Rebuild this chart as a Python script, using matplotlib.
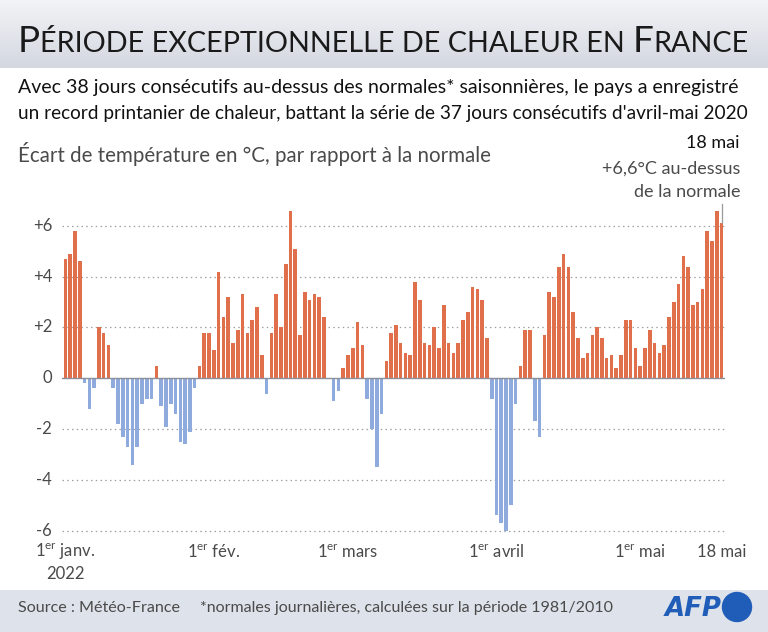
import numpy as np
import matplotlib
matplotlib.use('Agg')
import matplotlib.pyplot as plt
from matplotlib import font_manager
from matplotlib.patches import Circle

# ecart de temperature journalier (degres C) du 1er janv. au 18 mai 2022
jan = [4.7, 4.9, 5.8, 4.6, -0.2, -1.2, -0.4, 2.0, 1.8, 1.3,
       -0.4, -1.8, -2.3, -2.7, -3.4, -2.7, -1.0, -0.8, -0.8, 0.5,
       -1.1, -1.9, -1.0, -1.4, -2.5, -2.6, -2.1, -0.4, 0.5, 1.8, 1.8]
feb = [1.1, 4.2, 2.4, 3.2, 1.4, 1.9, 3.3, 1.8, 2.3, 2.8,
       0.9, -0.6, 1.8, 3.3, 2.0, 4.5, 6.6, 5.1, 1.7, 3.4,
       3.1, 3.3, 3.2, 2.4, 0.0, -0.9, -0.5, 0.4]
mar = [0.9, 1.2, 2.2, 1.3, -0.8, -2.0, -3.5, -1.4, 0.7, 1.8,
       2.1, 1.4, 1.0, 0.9, 3.8, 3.1, 1.4, 1.3, 2.0, 1.2,
       2.9, 1.4, 1.0, 1.4, 2.3, 2.6, 3.6, 3.5, 3.1, 1.6, -0.8]
apr = [-5.4, -5.7, -6.0, -5.0, -1.0, 0.5, 1.9, 1.9, -1.7, -2.3,
       1.7, 3.4, 3.2, 4.4, 4.9, 4.4, 2.6, 1.6, 0.8, 1.0,
       1.7, 2.0, 1.6, 0.8, 0.9, 0.4, 0.9, 2.3, 2.3, 1.2]
may = [0.5, 1.2, 1.9, 1.4, 1.0, 1.3, 2.4, 3.0, 3.7, 4.8,
       4.4, 2.9, 3.0, 3.5, 5.8, 5.4, 6.6, 6.1]

ecart = jan + feb + mar + apr + may
days = np.arange(len(ecart))

tick_days = [0, 31, 59, 90, 120, 137]
tick_labels = [r'1$^{\mathregular{er}}$ janv.', r'1$^{\mathregular{er}}$ fév.',
               r'1$^{\mathregular{er}}$ mars', r'1$^{\mathregular{er}}$ avril',
               r'1$^{\mathregular{er}}$ mai', '18 mai']
y_ticks = [-6, -4, -2, 0, 2, 4, 6]
y_labels = ['-6', '-4', '-2', '0', '+2', '+4', '+6']

ORANGE = '#E0704B'
BLUE = '#8FAADC'
GREY = '#4a4a4a'

W, H = 768, 632

names = {f.name for f in font_manager.fontManager.ttflist}
if 'Liberation Sans Narrow' in names:
    NARROW = ['Liberation Sans Narrow', 'DejaVu Sans']
else:
    NARROW = ['Lato', 'DejaVu Sans']
plt.rcParams['font.family'] = NARROW
plt.rcParams['mathtext.fontset'] = 'custom'
plt.rcParams['mathtext.rm'] = NARROW[0]


def fx(x):
    return x / W


def fy(y):
    return 1 - y / H


fig = plt.figure(figsize=(W / 100, H / 100), dpi=100)
renderer = fig.canvas.get_renderer()


def fit_text(x, y, s, size, width=None, **kw):
    t = fig.text(fx(x), fy(y), s, fontsize=size, **kw)
    if width:
        w = t.get_window_extent(renderer=renderer).width
        t.set_fontsize(size * width / w)
    return t


# header band
hax = fig.add_axes([0, fy(68), 1, 68 / H])
grad = np.linspace(0, 1, 100).reshape(-1, 1)
c0 = np.array([0.95, 0.955, 0.965])
c1 = np.array([0.83, 0.845, 0.88])
img = c0 + (c1 - c0) * grad[:, :, None]
hax.imshow(np.repeat(img, 2, axis=1), aspect='auto', extent=[0, 1, 0, 1])
hax.set_axis_off()

# footer band
fax = fig.add_axes([0, 0, 1, 42 / H])
fax.set_xlim(0, W)
fax.set_ylim(632, 590)
fax.add_patch(plt.Rectangle((0, 590), W, 42, color='#DEE2EA', zorder=0))
fax.add_patch(Circle((737, 607), 14.5, color='#1F5DB8', zorder=2))
fax.set_axis_off()

# title in small caps
pieces = [('P', 1.0), ('ÉRIODE EXCEPTIONNELLE DE CHALEUR EN ', 0.78),
          ('F', 1.0), ('RANCE', 0.78)]
base = 26
texts = []
x = 18
for s, k in pieces:
    t = fig.text(fx(x), fy(52), s, fontsize=base * k, color='#1a1a1a',
                 va='baseline')
    x += t.get_window_extent(renderer=renderer).width
    texts.append(t)
scale = (752 - 18) / (x - 18)
x = 18
for (s, k), t in zip(pieces, texts):
    t.set_fontsize(base * k * scale)
    t.set_x(fx(x))
    x += t.get_window_extent(renderer=renderer).width

fit_text(18, 87, "Avec 38 jours consécutifs au-dessus des normales* saisonnières, "
         "le pays a enregistré", 13.5, width=723, va='center', color='#111111')
fit_text(18, 113, "un record printanier de chaleur, battant la série de 37 jours "
         "consécutifs d'avril-mai 2020", 13.5, width=731, va='center', color='#111111')
fit_text(18, 154, "Écart de température en °C, par rapport à la normale", 14,
         width=475, va='center', color=GREY)
fig.text(fx(740), fy(143), '18 mai', fontsize=13, ha='right', va='center',
         color='#111111')
fig.text(fx(740), fy(169), '+6,6°C au-dessus', fontsize=13, ha='right',
         va='center', color=GREY)
fig.text(fx(740), fy(192), 'de la normale', fontsize=13, ha='right',
         va='center', color=GREY)

fit_text(18, 608, 'Source : Météo-France', 11.5, width=162, va='center',
         color=GREY)
fit_text(200, 608, '*normales journalières, calculées sur la période 1981/2010',
         11.5, width=415, va='center', color=GREY)
fit_text(665, 609, 'AFP', 20, width=57, va='center', color='#1F5DB8',
         weight='heavy', style='italic', family=['DejaVu Sans'])

# chart
y0, unit = 378.3, 25.4
ytop, ybot = 7.0, -6.3
ax = fig.add_axes([fx(62), fy(y0 - ybot * unit), fx(725) - fx(62),
                   (ytop - ybot) * unit / H])
colors = [ORANGE if v >= 0 else BLUE for v in ecart]
ax.bar(days, ecart, width=0.75, color=colors, zorder=3)
ax.set_xlim(-0.7, len(ecart) - 0.3)
ax.set_ylim(ybot, ytop)
for v in y_ticks:
    if v == 0:
        ax.axhline(0, color='#8a8f9a', lw=1.0, zorder=4)
    else:
        ax.axhline(v, color='#a0a0a0', lw=0.9, ls=(0, (1.2, 2.6)), zorder=1)
ax.plot([days[-1], days[-1]], [ecart[-1], 6.86], color='#9a9a9a', lw=0.9,
        clip_on=False, zorder=5)
for sp in ax.spines.values():
    sp.set_visible(False)
ax.set_xticks([])
ax.set_yticks([])
for v, lab in zip(y_ticks, y_labels):
    fig.text(fx(52), fy(y0 - v * unit), lab, fontsize=12, ha='right',
             va='center', color=GREY)

xpx = lambda d: 62 + (d + 0.7) * (725 - 62) / (len(ecart) + 0.4)
for d, lab in zip(tick_days, tick_labels):
    fig.text(fx(xpx(d)), fy(552), lab, fontsize=12, ha='center', va='center',
             color=GREY)
fig.text(fx(xpx(0)), fy(574), '2022', fontsize=12, ha='center', va='center',
         color=GREY)

fig.savefig('out.png', dpi=100)
